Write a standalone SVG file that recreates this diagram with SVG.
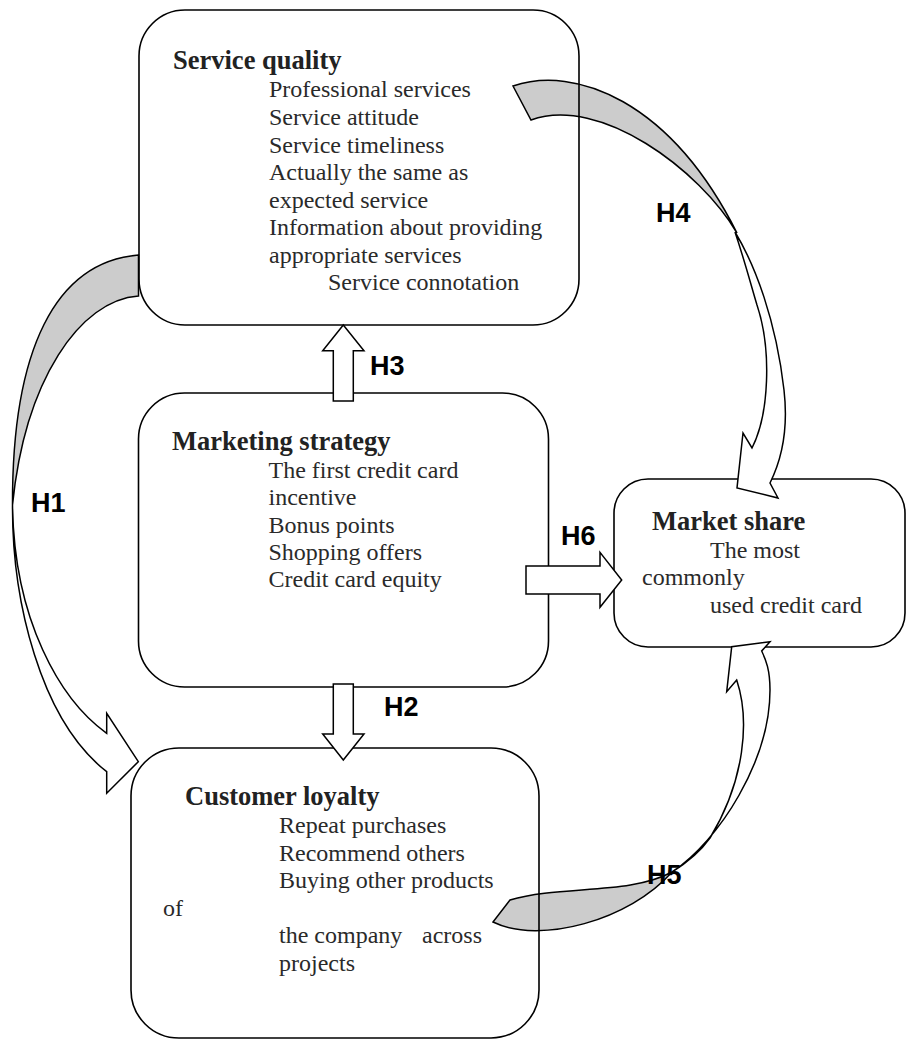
<svg xmlns="http://www.w3.org/2000/svg" width="906" height="1040" viewBox="0 0 906 1040">
  <style>
    .box { fill: none; stroke: #000; stroke-width: 1.6; }
    .title { font-family: "Liberation Serif", "Times New Roman", serif; font-weight: bold; font-size: 26.5px; fill: #222; }
    .item { font-family: "Liberation Serif", "Times New Roman", serif; font-size: 24px; fill: #2a2a2a; }
    .hyp { font-family: "Liberation Sans", Arial, sans-serif; font-weight: bold; font-size: 27px; fill: #000; }
    /* shaded underside of a curved arrow; translucent so box outlines stay visible */
    .back { fill: #000; fill-opacity: 0.2; stroke: #000; stroke-width: 1.5; stroke-linejoin: miter; }
    .front { fill: #fff; stroke: #000; stroke-width: 1.5; stroke-linejoin: miter; }
  </style>

  <rect width="906" height="1040" fill="#fff"/>

  <!-- Service quality -->
  <g id="service-quality">
    <rect class="box" x="139" y="10" width="440" height="315" rx="46" ry="46"/>
    <text class="title" x="173" y="69">Service quality</text>
    <text class="item" x="269" y="97">Professional services</text>
    <text class="item" x="269" y="125">Service attitude</text>
    <text class="item" x="269" y="152.5">Service timeliness</text>
    <text class="item" x="269" y="180">Actually the same as</text>
    <text class="item" x="269" y="208">expected service</text>
    <text class="item" x="269" y="235">Information about providing</text>
    <text class="item" x="269" y="262.5">appropriate services</text>
    <text class="item" x="328" y="290">Service connotation</text>
  </g>

  <!-- Marketing strategy -->
  <g id="marketing-strategy">
    <rect class="box" x="138.5" y="393" width="410" height="294" rx="46" ry="46"/>
    <text class="title" x="172" y="450">Marketing strategy</text>
    <text class="item" x="268.5" y="478">The first credit card</text>
    <text class="item" x="268.5" y="505">incentive</text>
    <text class="item" x="268.5" y="532.5">Bonus points</text>
    <text class="item" x="268.5" y="560">Shopping offers</text>
    <text class="item" x="268.5" y="587">Credit card equity</text>
  </g>

  <!-- Market share -->
  <g id="market-share">
    <rect class="box" x="614" y="479" width="291" height="168" rx="34" ry="34"/>
    <text class="title" x="652" y="530">Market share</text>
    <text class="item" x="710" y="558">The most</text>
    <text class="item" x="642" y="585">commonly</text>
    <text class="item" x="710" y="613">used credit card</text>
  </g>

  <!-- Customer loyalty -->
  <g id="customer-loyalty">
    <rect class="box" x="131" y="748" width="408" height="290" rx="48" ry="48"/>
    <text class="title" x="185" y="805">Customer loyalty</text>
    <text class="item" x="279" y="833">Repeat purchases</text>
    <text class="item" x="279" y="861">Recommend others</text>
    <text class="item" x="279" y="888">Buying other products</text>
    <text class="item" x="163" y="915.5">of</text>
    <text class="item" x="279" y="943">the company<tspan x="422">across</tspan></text>
    <text class="item" x="279" y="970.5">projects</text>
  </g>

  <!-- Hypothesis connectors -->
  <g id="connectors">
    <!-- H5 label sits under its curved arrow -->
    <text class="hyp" x="647" y="884">H5</text>

    <!-- H4: service quality -> market share -->
    <path class="back" d="M513 86 C575 65, 670 100, 737 233 C700 170, 600 95, 531 120 Z"/>
    <path class="front" d="M735 232 C755 265, 776 320, 784 390 C788 425, 784 455, 770 483 L778 498 L737 488 L743 433 L752 448 C769 415, 772 350, 757 305 C751 285, 745 262, 735 232 Z"/>

    <!-- H1: service quality -> customer loyalty -->
    <path class="back" d="M138.5 255 L138.5 296 C80 300, 25 380, 12.5 505 C12 350, 55 262, 138.5 255 Z"/>
    <path class="front" d="M12.5 505 C12 600, 40 720, 106.7 771.7 L106.7 793.3 L138.3 761.7 L106.7 713.3 L106.7 733.3 C60 700, 14 620, 12.5 505 Z"/>

    <!-- H5: customer loyalty -> market share -->
    <path class="back" d="M510 900 L493 922 C540 945, 630 920, 672 872 C630 895, 560 885, 510 900 Z"/>
    <path class="front" d="M672 872 C720 840, 770 760, 770 690 C770 670, 766 660, 761.7 651 L770 641.7 L731.7 646.7 L726.7 691.7 L736.7 680 C750 720, 745 780, 710 838 C700 852, 688 862, 672 872 Z"/>

    <!-- H3: marketing strategy -> service quality -->
    <polygon class="front" points="343.3,325 364,350.7 353.3,350.7 353.3,401 333.3,401 333.3,350.7 322.7,350.7"/>
    <!-- H2: marketing strategy -> customer loyalty -->
    <polygon class="front" points="333.3,684 353.3,684 353.3,734 364,734 343.3,760 322.7,734 333.3,734"/>
    <!-- H6: marketing strategy -> market share -->
    <polygon class="front" points="526,566 600,566 600,552.3 621.7,580 600,607.3 600,594 526,594"/>

    <text class="hyp" x="656" y="222">H4</text>
    <text class="hyp" x="31" y="512">H1</text>
    <text class="hyp" x="370" y="375">H3</text>
    <text class="hyp" x="561" y="545">H6</text>
    <text class="hyp" x="384" y="716">H2</text>
  </g>
</svg>
